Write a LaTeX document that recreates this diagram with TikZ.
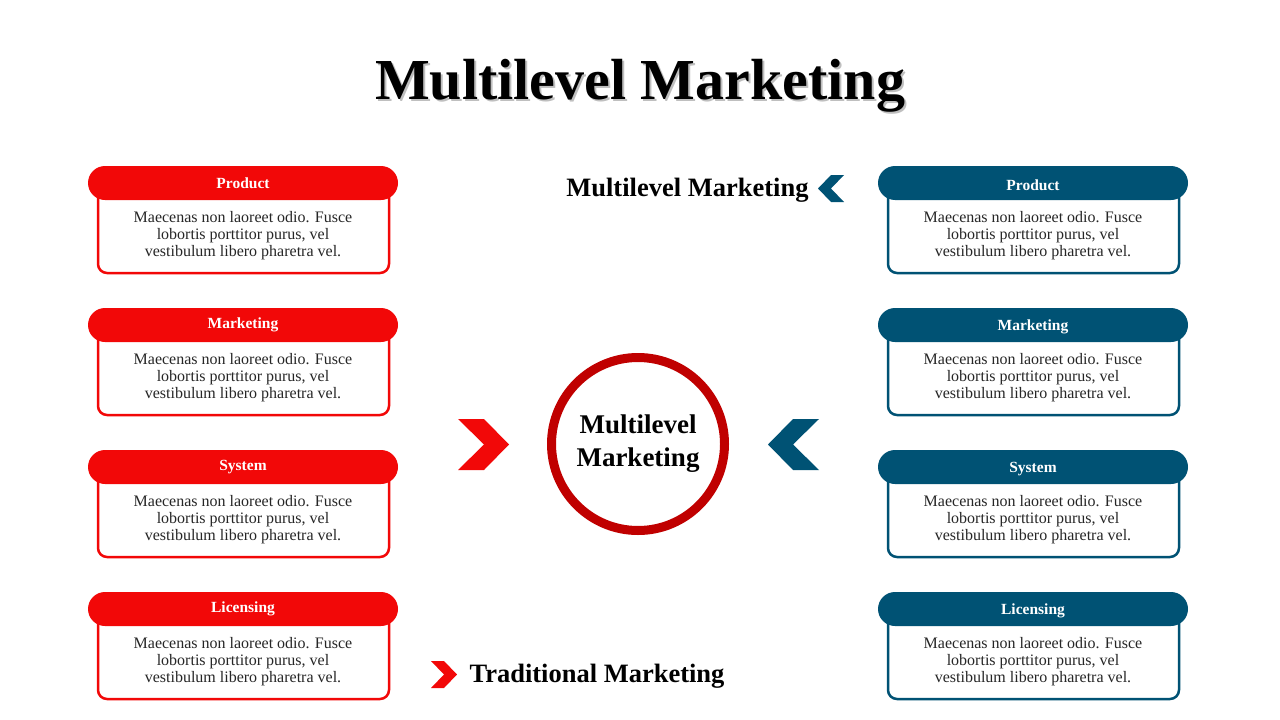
\documentclass[tikz,border=0pt]{standalone}
\usepackage{fontspec}
\setmainfont{Liberation Serif}
\definecolor{mred}{HTML}{F20808}
\definecolor{mblue}{HTML}{005274}
\definecolor{cred}{HTML}{C00000}
\begin{document}
\begin{tikzpicture}[x=1pt,y=-1pt,
  hdr/.style={fill=#1,rounded corners=17pt},
  bodybox/.style={draw=#1,line width=2.5pt,fill=white,rounded corners=9pt},
  hdrtxt/.style={text=white,font=\fontsize{15.5}{18}\selectfont\bfseries},
  bodytxt/.style={align=center,font=\fontsize{16}{17}\selectfont,text=black!85},
  lbl/.style={font=\fontsize{26.5}{28}\selectfont\bfseries}]
\useasboundingbox (0,0) rectangle (1280,720);
\fill[white] (0,0) rectangle (1280,720);
\node[font=\fontsize{58}{66}\selectfont\bfseries,text=black!25] at (642,88) {Multilevel Marketing};
\node (title) [font=\fontsize{58}{66}\selectfont\bfseries] at (640,86) {Multilevel Marketing};
\foreach \t [count=\i from 0] in {Product,Marketing,System,Licensing}{
  \pgfmathsetmacro{\yy}{166+142*\i}
  \draw[bodybox=mred] (98,\yy+20) rectangle (389,\yy+107);
  \fill[hdr=mred] (88,\yy) rectangle (398,\yy+34);
  \node (lh\i) [hdrtxt] at (243,\yy+17) {\t};
  \node (lb\i) [bodytxt] at (243,\yy+70) {Maecenas non laoreet odio. Fusce\\lobortis porttitor\ purus, vel\\vestibulum libero pharetra vel.};
  \draw[bodybox=mblue] (888,\yy+20) rectangle (1179,\yy+107);
  \fill[hdr=mblue] (878,\yy) rectangle (1188,\yy+34);
  \node (rh\i) [hdrtxt] at (1033,\yy+19) {\t};
  \node (rb\i) [bodytxt] at (1033,\yy+70) {Maecenas non laoreet odio. Fusce\\lobortis porttitor\ purus, vel\\vestibulum libero pharetra vel.};
}
\draw[cred,line width=9pt] (638,444) circle (86.5);
\node (c) [align=center,font=\fontsize{27}{33}\selectfont\bfseries] at (638,444) {Multilevel\\Marketing};
\fill[mred] (458,419)--(484,419)--(509,444.5)--(484,470)--(458,470)--(484,444.5)--cycle;
\fill[mblue] (819,419)--(793,419)--(768,444.5)--(793,470)--(819,470)--(793,444.5)--cycle;
\fill[mblue] (844,175)--(831,175)--(818,188.5)--(831,202)--(844,202)--(831,188.5)--cycle;
\fill[mred] (431,661)--(444,661)--(457,674.5)--(444,688)--(431,688)--(444,674.5)--cycle;
\node (ml) [lbl,anchor=east] at (812,190) {Multilevel Marketing};
\node (tm) [lbl,anchor=west] at (466,676) {Traditional Marketing};
\end{tikzpicture}
\end{document}
